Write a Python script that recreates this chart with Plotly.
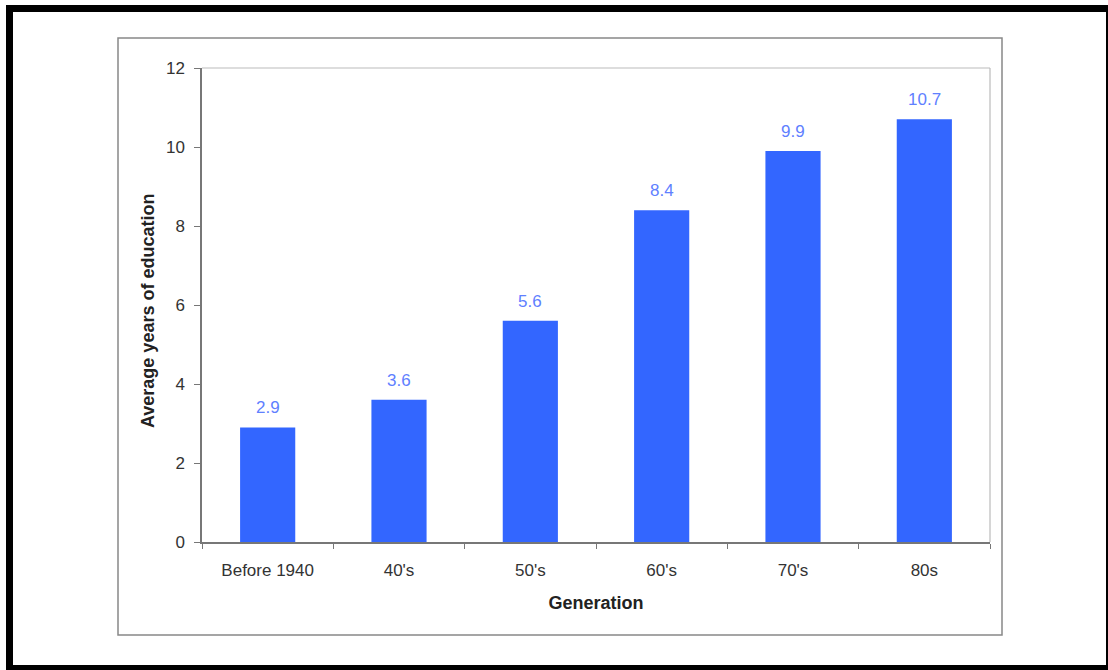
import plotly.graph_objects as go

categories = ["Before 1940", "40's", "50's", "60's", "70's", "80s"]
values = [2.9, 3.6, 5.6, 8.4, 9.9, 10.7]
value_labels = ["2.9", "3.6", "5.6", "8.4", "9.9", "10.7"]
y_ticks = [0, 2, 4, 6, 8, 10, 12]

W, H = 1108, 670
L, R, T, B = 202, 990, 68, 542  # plot area in pixels


def px(x):
    return (x - L) / (R - L)


def py(y):
    return (B - y) / (B - T)


fig = go.Figure()
fig.add_trace(go.Bar(
    x=categories, y=values,
    marker=dict(color="#3366FF", line=dict(width=0)),
    width=0.42,
    hoverinfo="x+y",
))

for c, v, t in zip(categories, values, value_labels):
    fig.add_annotation(x=c, y=v, text=t, showarrow=False,
                       yanchor="bottom", yshift=8,
                       font=dict(family="Liberation Sans, Arial", size=17, color="#6080FF"))

# y axis title
fig.add_annotation(xref="paper", yref="paper", x=px(148), y=py(311),
                   xanchor="center", yanchor="middle", textangle=-90, showarrow=False,
                   text="<b>Average years of education</b>",
                   font=dict(family="Liberation Sans, Arial", size=18, color="#222222"))

shapes = []
# inner gray frame
shapes.append(dict(type="rect", xref="paper", yref="paper",
                   x0=px(118), x1=px(1002), y0=py(635), y1=py(38),
                   line=dict(color="#888888", width=1.5), layer="below"))
# plot area top/right border (light gray)
shapes.append(dict(type="line", xref="paper", yref="paper",
                   x0=0, x1=1, y0=1, y1=1, line=dict(color="#BBBBBB", width=1.2)))
shapes.append(dict(type="line", xref="paper", yref="paper",
                   x0=1, x1=1, y0=0, y1=1, line=dict(color="#BBBBBB", width=1.2)))
# outer black border bands
black = dict(type="rect", xref="paper", yref="paper", fillcolor="black",
             line=dict(width=0), layer="above")
shapes.append({**black, "x0": px(6), "x1": px(13), "y0": py(671), "y1": py(5)})
shapes.append({**black, "x0": px(6), "x1": px(1109), "y0": py(12), "y1": py(5)})
shapes.append({**black, "x0": px(6), "x1": px(1109), "y0": py(671), "y1": py(665)})
shapes.append({**black, "x0": px(1106), "x1": px(1109), "y0": py(671), "y1": py(5)})
fig.update_layout(shapes=shapes)

fig.update_layout(
    width=W, height=H,
    margin=dict(l=L, r=W - R, t=T, b=H - B, pad=0),
    paper_bgcolor="white", plot_bgcolor="white",
    showlegend=False,
    bargap=0.58,
    font=dict(family="Liberation Sans, Arial", color="#333333"),
    xaxis=dict(
        showline=True, linecolor="#777777", linewidth=1.5,
        ticks="outside", tickson="boundaries", ticklen=5, tickcolor="#777777",
        tickfont=dict(size=17, color="#333333"),
        ticklabelstandoff=12,
        showgrid=False, zeroline=False,
        title=dict(text="<b>Generation</b>", font=dict(size=18, color="#222222"), standoff=17),
    ),
    yaxis=dict(
        range=[0, 12], tickvals=y_ticks,
        showline=True, linecolor="#777777", linewidth=1.5,
        ticks="outside", ticklen=6, tickcolor="#777777",
        tickfont=dict(size=17, color="#333333"),
        ticklabelstandoff=6,
        showgrid=False, zeroline=False,
    ),
)

fig.write_html("out.html")
